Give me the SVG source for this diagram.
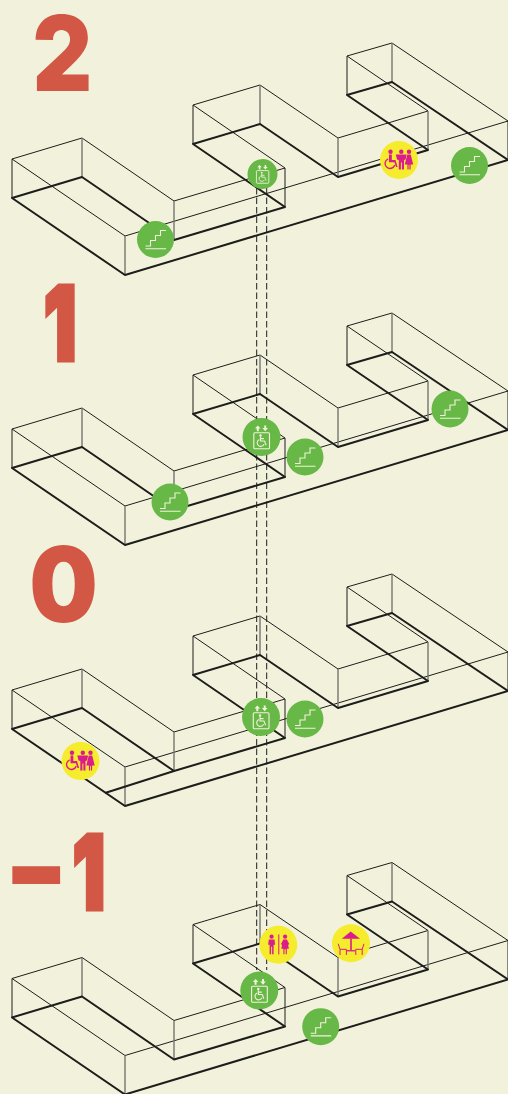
<svg xmlns="http://www.w3.org/2000/svg" width="508" height="1094" viewBox="0 0 508 1094">
<style>
.thin{fill:none;stroke:#1d1d1b;stroke-width:1;stroke-linejoin:round}
.thick{fill:none;stroke:#1d1d1b;stroke-width:2;stroke-linejoin:round}
.grey{fill:none;stroke:#76766f;stroke-width:1.4}
.dash{fill:none;stroke:#1d1d1b;stroke-width:1;stroke-dasharray:6.5 3}
.num{font-family:"Inter","Liberation Sans",sans-serif;font-weight:900;fill:#d25745}
.fat{stroke:#d25745;stroke-width:5;stroke-linejoin:miter}
.g{fill:#67b846}.y{fill:#f5ec2e}
.w{fill:none;stroke:#f2f2dc;stroke-width:1.1}
.wf{fill:#f2f2dc}
.m{fill:#da1c8c}
.ms{fill:none;stroke:#da1c8c;stroke-width:1}
</style>
<defs>
<g id="floor">
<path class="thin" d="M12 159L125 236L508 121L392 43L347 56L428 111L338 138L260 85L193 105L285 168L174 201L82 138Z"/>
<path class="thin" d="M12 159V198M193 105V144M347 56V95M285 168V207M508 121V160"/>
<path class="grey" d="M82 138V177M125 236V275M174 201V240M260 85V124M338 138V177M428 111V150M392 43V82"/>
<path class="thick" d="M12 198L125 275L508 160L392 82L347 95L428 150L338 177L260 124L193 144L285 207L174 240L82 177Z"/>
</g>
<g id="stairs">
<circle class="g" r="18.5"/>
<path class="w" d="M-10 6.5H-5V1H0V-4H5V-9H10.5M-10 9.2H10.5"/>
</g>
<g id="elev">
<circle class="g" r="19"/>
<rect class="w" x="-7.7" y="-4.3" width="15.7" height="16" rx="1"/>
<path class="wf" d="M-3.7 -11.5L-0.9 -8.4H-2.7V-5.8H-4.7V-8.4H-6.5ZM3.7 -5.8L0.9 -8.9H2.7V-11.5H4.7V-8.9H6.5Z"/>
<circle class="wf" cx="-1" cy="-1.5" r="1.2"/>
<path class="w" d="M-1 -0.3V4H3L4.6 8.3M-1 1.6H2.5"/>
<path class="w" d="M-2.2 2.5A3.6 3.6 0 1 0 2.6 7.2"/>
</g>
<g id="wc3">
<circle class="y" r="19"/>
<circle class="m" cx="-8.5" cy="-8.3" r="2.2"/>
<path class="m" d="M-10 -5.6H-7.2V0H-3.5L-1.4 7H-3L-4.6 2.2H-10Z"/>
<path class="ms" style="stroke-width:1.4" d="M-10.8 -1.2A5 5 0 1 0 -4.2 5"/>
<circle class="m" cx="2.3" cy="-8.3" r="2.2"/>
<path class="m" d="M-3.2 -5.5H7.6L6.6 -0.5L5 0V9.5H2.9V2.5H1.9V9.5H-0.2V0L-2 -0.5Z"/>
<circle class="m" cx="10" cy="-8.3" r="2.2"/>
<path class="m" d="M8.3 -5.5H11.7L14.2 4.5H11.6V9.5H10.4V5H9.6V9.5H8.4V4.5H5.8Z"/>
</g>
<g id="wc2">
<circle class="y" r="19"/>
<circle class="m" cx="-6.7" cy="-8" r="2.1"/>
<path class="m" d="M-9.5 -5.3H-3.8L-3.2 0H-4.7V9.5H-6.2V2H-7.2V9.5H-8.7V0H-10.2Z"/>
<rect class="m" x="0" y="-10.3" width="1" height="20"/>
<circle class="m" cx="6.8" cy="-8" r="2.1"/>
<path class="m" d="M5 -5.3H8.6L11 -0.5L9.8 0L10.6 4H8.5V9.5H7.4V4.5H6.2V9.5H5.1V4H3L3.8 0L2.6 -0.5Z"/>
</g>
<g id="cafe">
<circle class="y" r="19"/>
<path class="m" d="M-0.3 -11.7L9 -4.5H-9.2Z"/>
<rect class="m" x="-0.8" y="-4.6" width="1.6" height="11.8"/>
<rect class="m" x="-4.3" y="6.8" width="8.6" height="1.3"/>
<path class="ms" d="M-12.8 0.5L-11 6V11.7M-11 6H-4.6V11.7M13 0.5L11.2 6V11.7M11.2 6H4.8V11.7"/>
</g>
</defs>
<rect id="background" width="508" height="1094" fill="#f2f2dc"/>
<g id="floor-2-plan"><use href="#floor"/></g>
<g id="floor-1-plan"><use href="#floor" y="270"/></g>
<g id="floor-0-plan"><use href="#floor" y="531"/><path class="thick" d="M105 793L174 771"/></g>
<g id="floor-minus1-plan"><use href="#floor" y="819.5"/></g>
<g id="connectors">
<path class="dash" d="M256.7 188V970M266.7 188V970"/>
</g>
<g id="labels">
<text class="num" id="label-2" transform="translate(32.5 91) scale(.88 1)" font-size="105">2</text>
<text class="num fat" id="label-1" transform="translate(44 360) scale(.7 1)" font-size="102">1</text>
<text class="num" id="label-0" transform="translate(29.3 621.5) scale(.92 1)" font-size="105">0</text>
<text class="num fat" id="label-m1" transform="translate(0 909) scale(.7 1)" font-size="102"><tspan x="4.3" y="1" font-size="120" stroke-width="0" textLength="95" lengthAdjust="spacingAndGlyphs">-</tspan><tspan x="104" y="0">1</tspan></text>
</g>
<g id="f2-stairs-a"><use href="#stairs" x="155.5" y="239.5"/></g>
<g id="f2-lift"><use href="#elev" transform="translate(262.5 174) scale(.79)"/></g>
<g id="f2-toilets"><use href="#wc3" x="399" y="160"/></g>
<g id="f2-stairs-b"><use href="#stairs" x="469.5" y="165.5"/></g>
<g id="f1-stairs-a"><use href="#stairs" x="170" y="502"/></g>
<g id="f1-lift"><use href="#elev" x="261.5" y="437"/></g>
<g id="f1-stairs-b"><use href="#stairs" x="305" y="457"/></g>
<g id="f1-stairs-c"><use href="#stairs" x="450" y="409"/></g>
<g id="f0-toilets"><use href="#wc3" x="80.5" y="761"/></g>
<g id="f0-lift"><use href="#elev" x="261" y="717"/></g>
<g id="f0-stairs"><use href="#stairs" x="305" y="719"/></g>
<g id="m1-lift"><use href="#elev" x="259.3" y="990.5"/></g>
<g id="m1-toilets"><use href="#wc2" x="278.3" y="944.7"/></g>
<g id="m1-cafe"><use href="#cafe" x="351" y="943.3"/></g>
<g id="m1-stairs"><use href="#stairs" x="320.7" y="1026.7"/></g>
</svg>
